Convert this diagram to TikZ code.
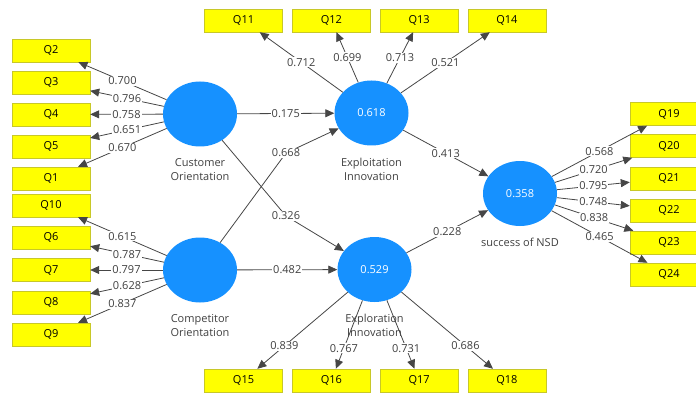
\documentclass[tikz,border=0pt]{standalone}
\usepackage{fontspec}
\setmainfont{Open Sans}
\usetikzlibrary{positioning,shapes.geometric,arrows.meta}
\definecolor{lvblue}{RGB}{22,145,255}
\definecolor{indyellow}{RGB}{255,255,0}
\definecolor{indedge}{RGB}{200,200,40}
\definecolor{linkgray}{RGB}{70,70,70}
\tikzset{
  ind/.style={draw=indedge,fill=indyellow,minimum width=78pt,minimum height=23pt,inner sep=0pt,text height=8pt,text depth=2pt},
  lv/.style={ellipse,fill=lvblue,minimum width=74pt,minimum height=65pt,inner sep=0pt,text=white},
  lvname/.style={align=center,text=black!75,inner sep=0pt},
  link/.style={draw=linkgray,line width=0.8pt,-{Triangle[length=9pt,width=8pt]}},
  wt/.style={fill=white,inner sep=1pt,text=black!75}
}
\begin{document}
\begin{tikzpicture}[x=1pt,y=-1pt,font=\fontsize{11}{14}\selectfont]
  \useasboundingbox (0,0) rectangle (696,393);
  \clip (0,0) rectangle (696,393);
  % latent variables
  \node [lv] (cust) at (200,114) {};
  \node [lv] (comp) at (200,270) {};
  \node [lv] (expt) at (371.5,113) {0.618};
  \node [lv] (expr) at (374.5,269.5) {0.529};
  \node [lv] (nsd) at (520,193.5) {0.358};
  % indicators
  \matrix [row sep={32pt,between origins},nodes=ind] (custind) at (51,114.5) {
    \node (q2) {Q2}; \\ \node (q3) {Q3}; \\ \node (q4) {Q4}; \\
    \node (q5) {Q5}; \\ \node (q1) {Q1}; \\
  };
  \matrix [row sep={32.25pt,between origins},nodes=ind] (compind) at (51,270) {
    \node (q10) {Q10}; \\ \node (q6) {Q6}; \\ \node (q7) {Q7}; \\
    \node (q8) {Q8}; \\ \node (q9) {Q9}; \\
  };
  \matrix [column sep={87.8pt,between origins},nodes=ind] (exptind) at (375.25,20.5) {
    \node (q11) {Q11}; & \node (q12) {Q12}; & \node (q13) {Q13}; & \node (q14) {Q14}; \\
  };
  \matrix [column sep={87.8pt,between origins},nodes=ind] (exprind) at (375.25,380.5) {
    \node (q15) {Q15}; & \node (q16) {Q16}; & \node (q17) {Q17}; & \node (q18) {Q18}; \\
  };
  \matrix [row sep={32.1pt,between origins},nodes=ind] (nsdind) at (669,194.25) {
    \node (q19) {Q19}; \\ \node (q20) {Q20}; \\ \node (q21) {Q21}; \\
    \node (q22) {Q22}; \\ \node (q23) {Q23}; \\ \node (q24) {Q24}; \\
  };
  % outer loadings
  \draw [link] (cust) -- node [wt] (w700) {0.700} (q2);
  \draw [link] (cust) -- node [wt] (w796) {0.796} (q3);
  \draw [link] (cust) -- node [wt] (w758) {0.758} (q4);
  \draw [link] (cust) -- node [wt] (w651) {0.651} (q5);
  \draw [link] (cust) -- node [wt] (w670) {0.670} (q1);
  \draw [link] (comp) -- node [wt] (w615) {0.615} (q10);
  \draw [link] (comp) -- node [wt] (w787) {0.787} (q6);
  \draw [link] (comp) -- node [wt] (w797) {0.797} (q7);
  \draw [link] (comp) -- node [wt] (w628) {0.628} (q8);
  \draw [link] (comp) -- node [wt] (w837) {0.837} (q9);
  \draw [link] (expt) -- node [wt] (w712) {0.712} (q11);
  \draw [link] (expt) -- node [wt] (w699) {0.699} (q12);
  \draw [link] (expt) -- node [wt] (w713) {0.713} (q13);
  \draw [link] (expt) -- node [wt] (w521) {0.521} (q14);
  \draw [link] (nsd) -- node [wt] (w568) {0.568} (q19);
  \draw [link] (nsd) -- node [wt] (w720) {0.720} (q20);
  \draw [link] (nsd) -- node [wt] (w795) {0.795} (q21);
  \draw [link] (nsd) -- node [wt] (w748) {0.748} (q22);
  \draw [link] (nsd) -- node [wt] (w838) {0.838} (q23);
  \draw [link] (nsd) -- node [wt] (w465) {0.465} (q24);
  % names below the circles (lines to Q15-Q18 run over them)
  \node [lvname,below=12pt of cust] (custname) {Customer\\Orientation};
  \node [lvname,below=12pt of comp] (compname) {Competitor\\Orientation};
  \node [lvname,below=12pt of expt] (exptname) {Exploitation\\Innovation};
  \node [lvname,below=12pt of expr] (exprname) {Exploration\\Innovation};
  \node [lvname,below=12pt of nsd] (nsdname) {success of NSD};
  \draw [link] (expr) -- node [wt,pos=0.7] (w839) {0.839} (q15);
  \draw [link] (expr) -- node [wt,pos=0.7] (w767) {0.767} (q16);
  \draw [link] (expr) -- node [wt,pos=0.7] (w731) {0.731} (q17);
  \draw [link] (expr) -- node [wt,pos=0.7] (w686) {0.686} (q18);
  % path coefficients
  \coordinate (k326) at (286,216);
  \coordinate (k668) at (286,153);
  \draw [link] (cust) -- node [wt] (w175) {0.175} (expt);
  \draw [link] (cust) -- (k326) -- (expr);
  \draw [link] (comp) -- (k668) -- (expt);
  \node [wt] (w326) at (k326) {0.326};
  \node [wt] (w668) at (k668) {0.668};
  \draw [link] (comp) -- node [wt] (w482) {0.482} (expr);
  \draw [link] (expt) -- node [wt] (w413) {0.413} (nsd);
  \draw [link] (expr) -- node [wt] (w228) {0.228} (nsd);
\end{tikzpicture}
\end{document}
